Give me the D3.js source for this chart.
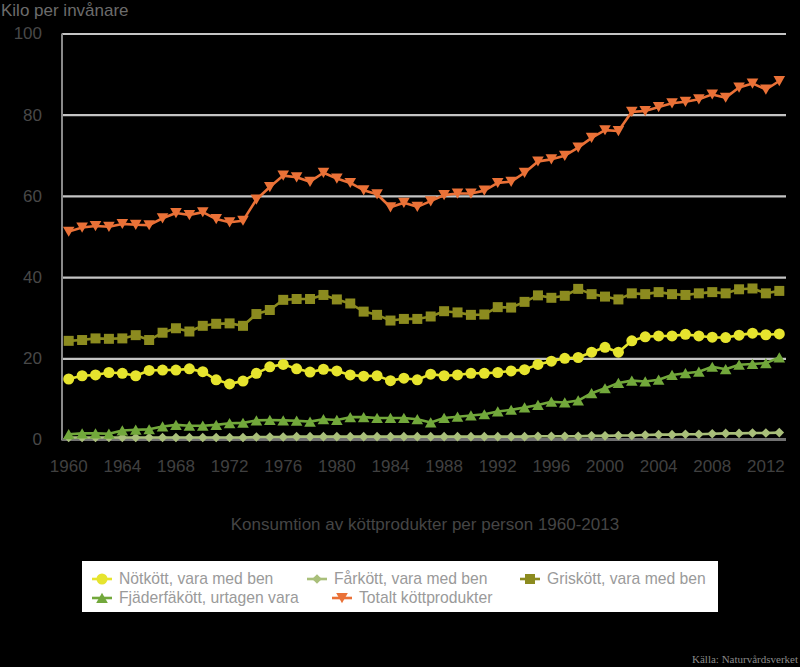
<!DOCTYPE html>
<html>
<head>
<meta charset="utf-8">
<script src="https://cdn.jsdelivr.net/npm/d3@7"></script>
<style>
  html, body { margin: 0; padding: 0; background: #000; }
  svg { display: block; }
</style>
</head>
<body>
<svg id="chart" width="800" height="667"></svg>
<script>
// ---- DATA ----
const years = d3.range(1960, 2014);
const xTickLabels = ["1960","1964","1968","1972","1976","1980","1984","1988","1992","1996","2000","2004","2008","2012"];
const yTicks = [0, 20, 40, 60, 80, 100];

const seriesNames = ["Nötkött, vara med ben", "Fårkött, vara med ben", "Griskött, vara med ben", "Fjäderfäkött, urtagen vara", "Totalt köttprodukter"];

const notkott = [14.9,15.7,15.9,16.5,16.3,15.7,17.0,17.1,17.1,17.4,
                 16.7,14.7,13.7,14.4,16.3,17.9,18.5,17.4,16.6,17.3,
                 16.9,15.9,15.6,15.7,14.5,15.1,14.7,16.1,15.7,15.9,
                 16.3,16.3,16.5,16.9,17.2,18.5,19.3,20.0,20.2,21.5,
                 22.7,21.5,24.3,25.3,25.5,25.5,25.9,25.5,25.2,25.1,
                 25.7,26.2,25.8,26.0];
const farkott = [0.5,0.5,0.5,0.5,0.5,0.5,0.5,0.5,0.5,0.5,
                 0.5,0.5,0.5,0.5,0.6,0.6,0.6,0.7,0.7,0.7,
                 0.7,0.7,0.7,0.7,0.7,0.7,0.7,0.7,0.7,0.7,
                 0.7,0.7,0.7,0.7,0.7,0.8,0.8,0.8,0.8,0.9,
                 0.9,1.0,1.0,1.1,1.2,1.2,1.3,1.3,1.4,1.5,
                 1.5,1.6,1.6,1.7];
const griskott = [24.3,24.5,24.9,24.8,24.9,25.7,24.5,26.3,27.4,26.6,
                  28.0,28.5,28.6,28.0,30.9,31.9,34.4,34.6,34.6,35.6,
                  34.5,33.5,31.5,30.7,29.3,29.7,29.7,30.3,31.6,31.3,
                  30.7,30.8,32.6,32.5,33.9,35.5,34.9,35.4,37.1,35.8,
                  35.2,34.5,36.0,35.8,36.3,35.8,35.6,36.0,36.3,36.0,
                  37.0,37.2,36.0,36.6];
const fjaderfa = [1.3,1.5,1.5,1.4,2.2,2.4,2.5,3.2,3.6,3.4,
                  3.4,3.6,4.0,4.1,4.7,4.8,4.7,4.6,4.4,5.0,
                  4.8,5.5,5.5,5.3,5.3,5.3,5.0,4.2,5.3,5.6,
                  5.9,6.2,6.9,7.3,7.9,8.5,9.3,9.1,9.6,11.4,
                  12.6,13.9,14.5,14.3,14.7,15.9,16.3,16.7,17.9,17.3,
                  18.4,18.6,18.8,20.2];
const totalt = [51.2,52.2,52.6,52.4,53.1,52.9,52.8,54.5,55.8,55.3,
                56.0,54.3,53.5,53.9,59.1,62.2,65.0,64.6,63.5,65.7,
                64.3,63.2,61.4,60.4,57.2,58.3,57.3,58.7,60.2,60.6,
                60.6,61.3,63.2,63.5,65.7,68.5,69.0,69.9,71.9,74.3,
                76.2,76.0,80.7,80.9,81.9,82.8,83.2,83.8,85.0,84.2,
                86.7,87.7,86.2,88.3];

const seriesValues = [notkott, farkott, griskott, fjaderfa, totalt];
const seriesColors = ["#E6E42E", "#A9BF7A", "#8C8B1F", "#72A83B", "#EA7137"];
const seriesMarkers = ["circle", "diamond", "square", "triUp", "triDown"];

// ---- LAYOUT ----
const svg = d3.select("#chart");
const plot = { left: 62, right: 786, top: 33.5, bottom: 439.5 };

const x = d3.scaleBand().domain(years).range([plot.left, plot.right]).paddingInner(0).paddingOuter(0);
const xc = yr => x(yr) + x.bandwidth() / 2;
const y = d3.scaleLinear().domain([0, 100]).range([plot.bottom, plot.top]);

svg.append("rect").attr("width", 800).attr("height", 667).attr("fill", "#000");

// gridlines
const yAxis = d3.axisLeft(y).tickValues(yTicks).tickSize(-(plot.right - plot.left)).tickFormat(d => d).tickPadding(20);
const gy = svg.append("g").attr("transform", `translate(${plot.left},0)`).call(yAxis);
gy.select(".domain").remove();
gy.selectAll(".tick line").attr("stroke", "#c4c4c4").attr("stroke-width", 2.2);
gy.selectAll(".tick text").attr("fill", "#484848").attr("font-family", "Liberation Sans, Arial, sans-serif").attr("font-size", 17);

// left axis line
svg.append("line").attr("x1", plot.left).attr("x2", plot.left).attr("y1", plot.top).attr("y2", plot.bottom + 1)
  .attr("stroke", "#8a8a8a").attr("stroke-width", 2);

// bottom axis
const xAxis = d3.axisBottom(x).tickValues(xTickLabels.map(Number)).tickSize(0).tickPadding(20).tickFormat(d => String(d));
const gx = svg.append("g").attr("transform", `translate(0,${plot.bottom})`).call(xAxis);
gx.select(".domain").remove();
gx.selectAll(".tick text").attr("fill", "#404040").attr("font-family", "Liberation Sans, Arial, sans-serif").attr("font-size", 17);
svg.append("line").attr("x1", plot.left).attr("x2", plot.right).attr("y1", plot.bottom).attr("y2", plot.bottom)
  .attr("stroke", "#717171").attr("stroke-width", 3);

// marker paths
function markerPath(type) {
  switch (type) {
    case "circle": return d3.symbol().type(d3.symbolCircle).size(Math.PI * 5.5 * 5.5)();
    case "square": return "M-5,-5H5V5H-5Z";
    case "diamond": return "M0,-4.8L4.8,0L0,4.8L-4.8,0Z";
    case "triUp": return "M0,-5.2L5.8,5H-5.8Z";
    case "triDown": return "M-5.8,-5H5.8L0,5.2Z";
  }
}

const line = d3.line().x((d, i) => xc(years[i])).y(d => y(d));

seriesValues.forEach((vals, si) => {
  const g = svg.append("g");
  g.append("path").attr("d", line(vals)).attr("fill", "none")
    .attr("stroke", seriesColors[si]).attr("stroke-width", 2.6).attr("stroke-linejoin", "round");
  g.selectAll("path.m").data(vals).enter().append("path").attr("class", "m")
    .attr("d", markerPath(seriesMarkers[si]))
    .attr("transform", (d, i) => `translate(${xc(years[i])},${y(d)})`)
    .attr("fill", seriesColors[si]);
});

// y axis title
svg.append("text").attr("x", 1).attr("y", 16).text("Kilo per invånare")
  .attr("fill", "#6c6c6c").attr("font-family", "Liberation Sans, Arial, sans-serif").attr("font-size", 17);

// chart title (below axis)
svg.append("text").attr("x", 425).attr("y", 530).attr("text-anchor", "middle")
  .text("Konsumtion av köttprodukter per person 1960-2013")
  .attr("fill", "#454545").attr("font-family", "Liberation Sans, Arial, sans-serif").attr("font-size", 17);

// legend
svg.append("rect").attr("x", 82).attr("y", 561).attr("width", 636).attr("height", 51).attr("fill", "#fff");
const legendPos = [
  { mx: 102, ty: 579 }, { mx: 317, ty: 579 }, { mx: 530, ty: 579 },
  { mx: 102, ty: 598 }, { mx: 342, ty: 598 }
];
seriesNames.forEach((name, si) => {
  const p = legendPos[si];
  const g = svg.append("g");
  g.append("line").attr("x1", p.mx - 10).attr("x2", p.mx + 10).attr("y1", p.ty).attr("y2", p.ty)
    .attr("stroke", seriesColors[si]).attr("stroke-width", 2.6);
  g.append("path").attr("d", markerPath(seriesMarkers[si])).attr("transform", `translate(${p.mx},${p.ty})`)
    .attr("fill", seriesColors[si]);
  g.append("text").attr("x", p.mx + 17).attr("y", p.ty).attr("dy", "0.35em").text(name)
    .attr("fill", "#9a9a9a").attr("font-family", "Liberation Sans, Arial, sans-serif").attr("font-size", 15.7);
});

// source
svg.append("text").attr("x", 798).attr("y", 663).attr("text-anchor", "end").text("Källa: Naturvårdsverket")
  .attr("fill", "#8a8a8a").attr("font-family", "Liberation Serif, Times New Roman, serif").attr("font-size", 11);
</script>
</body>
</html>
